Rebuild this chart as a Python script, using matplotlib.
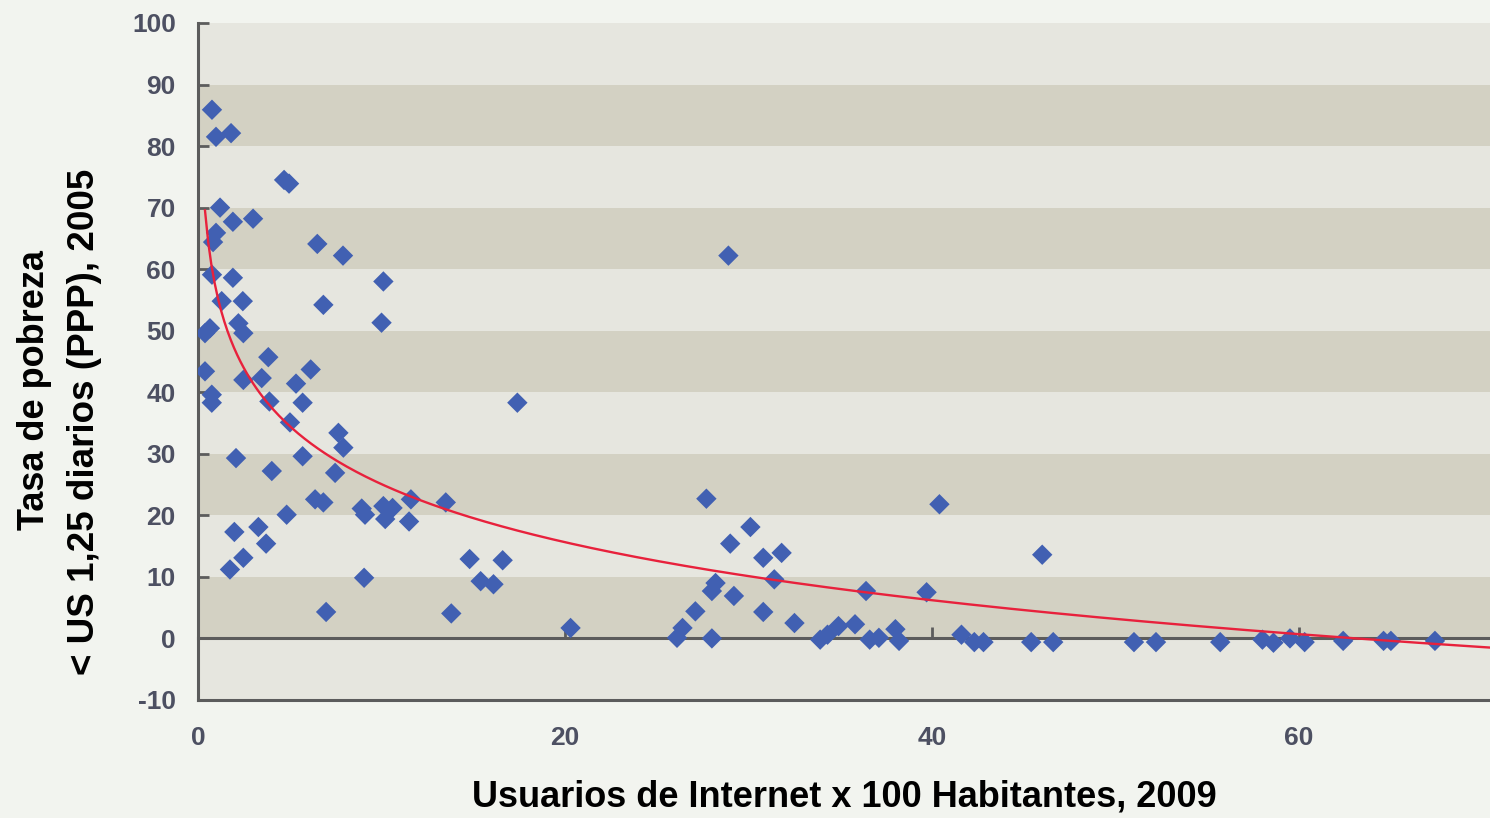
import numpy as np
import matplotlib
matplotlib.use("Agg")
from matplotlib import pyplot as plt

# Usuarios de Internet x 100 hab. (2009) vs tasa de pobreza < US$1,25 (2005)
internet = [0.76, 0.98, 1.8, 4.69, 4.96, 1.2, 1.9, 3.0, 0.98, 0.82, 6.5, 7.9, 0.76, 1.9, 10.1,
            1.29, 2.44, 6.83, 10.0, 0.65, 0.38, 2.2, 2.47, 3.83, 0.38, 2.47, 3.47, 6.14, 5.34,
            0.75, 0.75, 3.89, 5.7, 5.01, 7.65, 7.92, 2.07, 5.7, 4.02, 7.47, 6.38, 6.83, 4.83,
            8.92, 9.1, 10.1, 10.6, 10.2, 11.6, 11.5, 13.5, 1.98, 3.29, 3.71, 2.47, 1.74, 9.05,
            6.98, 14.8, 16.6, 15.4, 16.1, 13.8, 20.3, 17.4, 28.9, 27.7, 30.1, 29.0, 30.8, 31.8,
            31.4, 28.2, 28.0, 29.2, 27.1, 30.8, 32.5, 26.4, 26.1, 28.0, 33.9, 34.3, 34.9, 35.8,
            36.4, 36.6, 37.1, 38.0, 38.2, 40.4, 39.7, 41.6, 42.3, 42.8, 45.4, 46.0, 46.6, 51.0,
            52.2, 55.7, 58.0, 58.6, 59.5, 60.3, 62.4, 64.6, 65.0, 67.4]
pobreza = [85.9, 81.5, 82.1, 74.5, 73.9, 70.0, 67.7, 68.2, 65.9, 64.4, 64.1, 62.2, 59.1, 58.6, 58.0,
           54.8, 54.8, 54.2, 51.3, 50.4, 49.6, 51.2, 49.6, 45.7, 43.4, 42.0, 42.3, 43.7, 41.4,
           39.6, 38.3, 38.5, 38.3, 35.1, 33.4, 31.0, 29.3, 29.6, 27.2, 26.9, 22.6, 22.1, 20.1,
           21.1, 20.1, 21.5, 21.2, 19.4, 22.6, 19.0, 22.1, 17.3, 18.1, 15.4, 13.1, 11.2, 9.85,
           4.3, 12.9, 12.7, 9.3, 8.8, 4.06, 1.7, 38.3, 62.2, 22.7, 18.1, 15.4, 13.1, 13.9,
           9.6, 9.0, 7.7, 6.9, 4.4, 4.3, 2.5, 1.7, 0.1, 0.0, -0.2, 0.6, 2.0, 2.3,
           7.7, -0.2, 0.1, 1.5, -0.4, 21.8, 7.5, 0.6, -0.6, -0.6, -0.6, 13.6, -0.6, -0.6,
           -0.6, -0.6, -0.2, -0.7, 0.0, -0.6, -0.4, -0.4, -0.4, -0.4]

y_ticks = list(range(-10, 101, 10))
x_ticks = [0, 20, 40, 60]

x = np.array(internet)
y = np.array(pobreza)

fig = plt.figure(figsize=(14.9, 8.18), dpi=100)
fig.patch.set_facecolor("#f2f4ef")
ax = fig.add_axes([0.1329, 0.1443, 0.8671, 0.8276])
ax.set_facecolor("#e6e6df")

# alternating bands
for i, lo in enumerate(y_ticks[:-1]):
    if i % 2 == 1:
        ax.axhspan(lo, y_ticks[i + 1], color="#d3d1c3", lw=0, zorder=0)

xmax = 70.4
ax.set_xlim(0, xmax)
ax.set_ylim(-10, 100)

ax.scatter(x, y, marker="D", s=108, color="#4160b2", edgecolors="none", zorder=3)

# logarithmic trend line
b, a = np.polyfit(np.log(x), y, 1)
xt = np.linspace(x.min(), xmax, 400)
ax.plot(xt, a + b * np.log(xt), color="#e8213c", lw=1.7, zorder=4)

for s in ["top", "right"]:
    ax.spines[s].set_visible(False)
for s in ["left", "bottom"]:
    ax.spines[s].set_color("#5c5c5c")
    ax.spines[s].set_linewidth(2.2)

lab_kw = dict(fontsize=19, fontweight="bold", color="#4d5062", family="Liberation Sans")
ax.set_yticks(y_ticks)
ax.set_yticklabels([str(t) for t in y_ticks], **lab_kw)
ax.tick_params(axis="y", direction="in", length=8, width=2, color="#5c5c5c", pad=16)
ax.set_xticks(x_ticks)
ax.set_xticklabels([str(t) for t in x_ticks], **lab_kw)
ax.tick_params(axis="x", length=0, pad=19)

# horizontal axis crossing at zero
zero_ax = ax.secondary_xaxis(10 / 110)
zero_ax.set_xticks(x_ticks[1:])
zero_ax.tick_params(direction="in", length=8, width=2, color="#5c5c5c", labelbottom=False, labeltop=False)
zero_ax.spines["bottom"].set_color("#5c5c5c")
zero_ax.spines["bottom"].set_linewidth(2.2)
zero_ax.spines["top"].set_visible(False)

tit_kw = dict(fontsize=26, fontweight="bold", color="black", family="Liberation Sans")
fig.text(0.567, 0.026, "Usuarios de Internet x 100 Habitantes, 2009", ha="center", va="center", **tit_kw)
fig.text(0.023, 0.523, "Tasa de pobreza", rotation=90, ha="center", va="center", **tit_kw)
fig.text(0.057, 0.484, "< US 1,25 diarios (PPP), 2005", rotation=90, ha="center", va="center", fontsize=26.5,
         fontweight="bold", color="black", family="Liberation Sans")

plt.savefig("out.png", dpi=100, facecolor=fig.get_facecolor())
